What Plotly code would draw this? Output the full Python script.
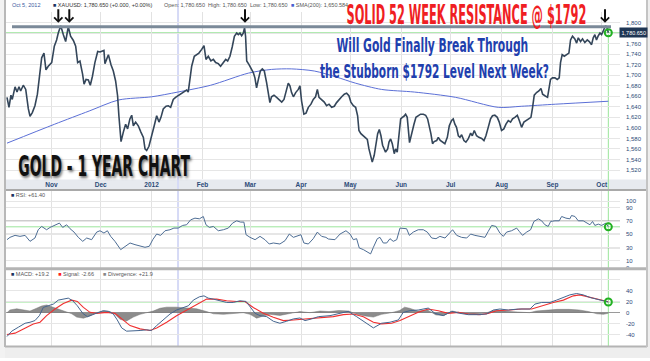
import json
import pandas as pd
import plotly.graph_objects as go

# ---------------- data ----------------
start_date = "2011-10-05"

price_days = [
    0, 1.2, 2.4, 3.2, 4.9, 6.1, 7.3, 8.3, 9.9, 11.4,
    13, 14, 15.4, 17, 18.5, 19.7, 21.1, 22.5, 23.7, 25.1,
    27.2, 28.8, 30.2, 31.2, 32.7, 34.3, 35.7, 37.3, 38.7, 40.4,
    41.8, 43, 44.4, 46, 46.9, 48.1, 49.5, 50.7, 52, 53.5,
    55.2, 56.6, 58, 59, 59.6, 60.6, 61.7, 63.3, 64.7, 66.1,
    67.3, 68.1, 69.4, 70.8, 72.2, 73.4, 74.8, 75.9, 76.9, 78.3,
    79.9, 81.5, 83, 84, 85, 86.4, 87.4, 88.4, 89.6, 91.1,
    92.5, 93.7, 95.1, 96.8, 98.2, 99.6, 101.2, 102.6, 103.9, 105.3,
    106.7, 107.9, 109.3, 110.3, 111.4, 112.4, 114, 115.4, 116.8, 118.5,
    119.9, 121.1, 122.5, 124.1,
    125.6, 127, 128.6, 130, 131.7, 133.1, 134.3, 135.7, 137.1, 138.4,
    139.8, 140.8, 141.8, 142.8, 143.8, 144.6, 145.2, 145.9, 147.3, 148.5,
    149.9, 150.9, 151.9, 153, 154.2, 155.4, 156.6, 158, 159, 160,
    161, 162.5, 164.1, 165.5, 167.2, 168.6, 169.8, 171.2, 172.2, 173.2,
    174.3, 175.7, 177.3, 178.3, 179.3, 180.7, 182, 183.4, 185, 186.4,
    187.8, 188.9, 189.9, 191.5, 193.1, 194.5, 196, 197.6, 199.2, 200.6,
    202, 203.7, 205.3, 206.7, 208.1, 209.3, 210.8, 212.2, 213.4, 214.2,
    215.4, 216.9, 217.9, 219.3, 220.3, 221.5, 222.3, 223.5, 224.6, 225.6,
    226.6, 227.6, 228.6, 229.6, 230.4, 231.7, 232.5, 233.5, 234.5, 235.7,
    236.5, 237.5, 238.6, 239.6, 240.6, 241.6, 242.6, 243.6,
    245, 246.3, 247.7, 248.9, 250.3, 251.7, 253.4, 254.8, 256, 256.8,
    258, 259, 260, 261.5, 262.5, 263.7, 265.1, 266.5, 268, 269.2,
    270.6, 271.6, 272.6, 273.6, 274.7, 275.7, 276.7, 278.1, 279.3, 280.7,
    282.2, 283.2, 284.4, 285.8, 287.2, 288.9, 290.3, 291.5, 292.9, 294.3,
    295.5, 296.9, 298.4, 299.6, 301, 302.4, 303.7, 305.1, 306.5, 307.7,
    309.1, 310.6, 311.8, 313.2, 314.6, 315.8, 317.3, 318.9, 319.9, 320.9,
    322.3, 323.7, 325, 326, 327.4, 329, 329.8, 330.8, 332, 333.5,
    334.9, 336.1, 336.9, 337.9, 339.2, 340.6, 342, 343, 344.2, 345.6,
    346.7, 347.7, 349.1, 350.3, 351.7, 353.2, 354.4, 355.8, 356.8, 357.8,
    358.8, 359.9, 360.9, 361.9, 363.1, 364.3, 365.3, 366,
]
price_values = [
    1658, 1639, 1662, 1654, 1678, 1668, 1678, 1670, 1681, 1673,
    1636, 1622, 1629, 1642, 1664, 1698, 1733, 1742, 1710, 1717,
    1724, 1755, 1767, 1780, 1794, 1777, 1764, 1792, 1774, 1766,
    1755, 1724, 1727, 1702, 1683, 1692, 1691, 1681, 1698, 1724,
    1745, 1744, 1745, 1747, 1722, 1730, 1739, 1720, 1708, 1689,
    1661, 1623, 1574, 1592, 1607, 1598, 1617, 1624, 1604, 1611,
    1604, 1592, 1582, 1560, 1557, 1565, 1579, 1592, 1604, 1623,
    1611, 1620, 1636, 1641, 1642, 1639, 1654, 1658, 1661, 1664,
    1667, 1670, 1672, 1668, 1698, 1717, 1736, 1739, 1742, 1749,
    1756, 1730, 1736, 1727,
    1730, 1724, 1722, 1717, 1725, 1730, 1727, 1736, 1754, 1774,
    1780, 1777, 1780, 1775, 1780, 1790, 1774, 1727, 1720, 1714,
    1705, 1695, 1676, 1692, 1708, 1712, 1708, 1686, 1664, 1648,
    1659, 1662, 1658, 1653, 1649, 1654, 1667, 1685, 1680, 1667,
    1659, 1667, 1673, 1680, 1651, 1626, 1628, 1639, 1645, 1654,
    1659, 1673, 1658, 1654, 1649, 1642, 1645, 1639, 1641, 1648,
    1654, 1659, 1664, 1666, 1661, 1649, 1642, 1639, 1623, 1595,
    1589, 1585, 1582, 1578, 1560, 1541, 1535, 1548, 1570, 1589,
    1597, 1585, 1567, 1560, 1554, 1560, 1573, 1579, 1570, 1551,
    1560, 1554, 1585, 1617, 1620, 1622, 1626, 1620,
    1572, 1592, 1607, 1620, 1623, 1626, 1626, 1624, 1617, 1607,
    1589, 1570, 1574, 1576, 1582, 1576, 1573, 1570, 1582, 1604,
    1614, 1617, 1607, 1601, 1585, 1582, 1587, 1576, 1573, 1579,
    1590, 1585, 1595, 1585, 1582, 1580, 1576, 1585, 1601, 1617,
    1623, 1624, 1620, 1611, 1595, 1598, 1607, 1614, 1611, 1617,
    1620, 1624, 1614, 1601, 1611, 1614, 1617, 1620, 1639, 1662,
    1667, 1670, 1675, 1664, 1661, 1658, 1673, 1692, 1695, 1695,
    1692, 1695, 1724, 1739, 1736, 1739, 1742, 1767, 1774, 1769,
    1761, 1771, 1764, 1769, 1762, 1767, 1764, 1758, 1771, 1777,
    1767, 1775, 1780, 1777, 1785, 1794, 1789, 1780.65,
]

sma_days = [0, 29, 50, 68, 88, 104, 124, 147, 161, 173, 187, 200, 212, 228, 248, 273, 299, 313, 334, 366]
sma_values = [1571, 1607, 1632, 1653, 1659, 1668, 1681, 1704, 1711, 1712, 1708, 1697, 1685, 1673, 1668, 1658, 1639, 1641, 1645, 1650.584]

rsi_days = [
    0, 1.8, 4.9, 7.9, 11, 14, 17, 19, 21.1, 24.1,
    26.2, 29.2, 31.9, 33.9, 36.3, 38.4, 40.8, 43.4, 46.1, 48.5,
    51.5, 54.6, 56.6, 59, 61.1, 63.1, 65.7, 69.2, 71.8, 74.9,
    77.9, 81, 84, 86.6, 88.7, 91.1, 93.5, 96.2, 99.2, 101.6,
    104.2, 106.9, 109.3, 111.8, 114.4, 117.1, 119.5, 121.1, 123.2, 125.6,
    128.6, 131.7, 134.7, 137.3, 139.8, 142.2, 144.2, 145.5, 147.9, 151,
    154, 157, 159.6, 162.1, 166.1, 169.2, 171.8, 174.3, 177.3, 178.9,
    180.7, 183.4, 186.4, 188.9, 191.5, 194.1, 195.6, 199.6, 202.7, 206.3,
    208.8, 210.8, 212.8, 214.4, 216.9, 219.3, 221.3, 223, 225.4, 227,
    229, 231.1, 233.1, 235.1, 237.2, 239.2, 241.2, 243.2, 244.9, 247.3,
    250.3, 253.4, 255.8, 258.5, 261.1, 263.5, 266.6, 269.2, 271.2, 273.7,
    276.7, 279.8, 282.2, 284.8, 287.9, 290.9, 292.9, 295, 297.6, 300,
    302.1, 304.1, 307.1, 310.2, 311.8, 313.8, 316.3, 318.7, 320.7, 323.4,
    325.4, 327.4, 329.4, 330.9, 333.5, 336.1, 337.6, 340.2, 342.6, 343.6,
    345.7, 347.7, 350.7, 352.8, 354.8, 356.4, 357.8, 359.9, 361.9, 364.5,
    366,
]
rsi_values = [
    42, 45.5, 48.5, 47, 48.5, 39.5, 44.5, 57, 62, 57,
    60.5, 63.5, 67, 60.5, 64.5, 58.5, 53.5, 45.5, 39.5, 44.5,
    42, 53.5, 55.5, 52, 55.5, 47, 39.5, 27, 32, 37,
    34.5, 32, 30.5, 32, 42, 50.5, 48.5, 55.5, 57, 59.5,
    59.5, 63.5, 64.5, 72, 74.5, 73.5, 77, 64.5, 60.5, 62,
    55.5, 57, 59.5, 67, 70.5, 68.5, 68.5, 49.5, 45.5, 42,
    47, 42, 35.5, 37, 35.5, 40.5, 50.5, 45.5, 48.5, 49.5,
    37, 35.5, 43.5, 53.5, 47, 45.5, 43, 42, 50.5, 55.5,
    50.5, 42, 43.5, 29.5, 27, 23.5, 20.5, 30.5, 43.5, 45.5,
    37, 37, 43.5, 39.5, 42, 59.5, 59.5, 58.5, 48.5, 53.5,
    57, 57, 53.5, 44.5, 43.5, 47, 44.5, 52, 57, 48.5,
    45.5, 44.5, 50.5, 48.5, 47, 45.5, 54.5, 63.5, 62, 52,
    47, 53.5, 55.5, 59.5, 54.5, 48.5, 53.5, 57, 69.5, 73.5,
    70.5, 64.5, 62, 69.5, 70.5, 70.5, 77, 74.5, 73.5, 78.5,
    77, 70.5, 70.5, 67, 64.5, 69.5, 63.5, 65.5, 63.5, 67,
    61.4,
]

macd_days = [
    0, 2.9, 6.9, 11, 14, 17, 19.7, 22.1, 25.1, 28.2,
    31.2, 34.3, 37.3, 40, 42.8, 46.1, 48.9, 52.1, 55.6, 58.6,
    61.7, 64.7, 67.1, 69.8, 72.8, 76.9, 81, 85, 88, 91.1,
    95.1, 99.2, 103.2, 107.3, 110.4, 113.4, 117.1, 119.9, 122.5, 125.6,
    129.6, 133.7, 137.7, 141.8, 145.5, 147.9, 151, 154, 158.1, 162.1,
    166.1, 170.2, 174.3, 178.3, 181.4, 185.4, 189.5, 196.6, 202.7, 207.7,
    212.8, 217.9, 223, 228, 233.1, 238.2, 241.2, 245.3, 250.3, 256.4,
    260.5, 265.5, 270.6, 275.7, 280.8, 286.8, 291.9, 296, 300, 305.1,
    311.2, 318.3, 321.3, 325.4, 330.5, 334.5, 338.6, 342.6, 346.7, 350.7,
    354.8, 358.9, 362.9, 366,
]
macd_values = [
    -43, -33.4, -26.3, -19.1, -17.3, -14.3, -5.4, 9.5, 12.5, 15.5,
    22.7, 24.5, 26.3, 21.5, 12.5, -1.2, -7.2, -3.6, 0.6, 3.6,
    2.4, -2.4, -13.1, -27.5, -33.4, -33.4, -32.2, -31, -32.2, -23.3,
    -13.1, -2.4, 4.8, 9.5, 12.5, 22.7, 28.7, 30.4, 26.3, 24.5,
    21.5, 18.5, 18.5, 21.5, 20.3, 10.7, -1.2, -5.4, -7.2, -15.5,
    -19.1, -15.5, -11.3, -9.6, -14.3, -11.3, -7.2, -5.4, -1.2, 2.4,
    -7.2, -17.3, -27.5, -19.1, -17.3, -13.1, 0.6, 3.6, 4.8, 8.3,
    -1.2, -5.4, 2.4, -1.2, -3.6, -3.6, -2.4, 4.8, 6.6, 4.8,
    6.6, 6.6, 15.5, 18.5, 18.5, 22.7, 27.5, 32.2, 34.6, 32.2,
    27.5, 24.5, 21.5, 19.2,
]

signal_days = [
    0, 4.9, 10, 16, 20.1, 24.1, 29.2, 34.3, 39.4, 42.8,
    46.5, 50.5, 54.6, 60.7, 65.7, 69.8, 74.9, 81, 87, 91.1,
    97.2, 103.2, 109.3, 115.4, 121.5, 127.6, 133.7, 139.8, 144.8, 149.9,
    156, 162.1, 168.2, 174.3, 182.4, 190.5, 198.6, 204.7, 210.8, 216.9,
    223, 228, 234.1, 239.2, 244.3, 250.3, 256.4, 262.5, 268.6, 274.7,
    280.8, 287.9, 292.9, 298, 306.1, 313.2, 319.3, 325.4, 332.5, 338.6,
    344.7, 348.7, 353.8, 359.9, 366,
]
signal_values = [
    -39.4, -37, -29.3, -20.3, -17.3, -5.4, 6.6, 16.7, 22.7, 20.3,
    9.5, 0.6, -1.2, 0.6, -1.2, -11.3, -23.3, -29.3, -32.2, -27.5,
    -17.3, -5.4, 4.8, 15.5, 24.5, 24.5, 21.5, 20.3, 20.3, 9.5,
    -1.2, -8.4, -14.3, -13.1, -11.3, -8.4, -7.2, -3.6, -2.4, -7.2,
    -17.3, -20.3, -19.1, -14.3, -7.2, 0.6, 6.6, 3.6, -1.2, 0.6,
    -2.4, -3.6, -1.2, 3.6, 4.8, 6.6, 6.6, 12.5, 18.5, 22.7,
    30.4, 32.2, 28.7, 24.5, 19.7,
]

div_days = [
    0, 1.8, 5.9, 10, 14, 18, 21, 24.1, 28.2, 32.3,
    36.3, 39.4, 42.4, 46.5, 50.5, 54.6, 58.6, 62.7, 65.7, 68.8,
    72.8, 76.9, 81, 85, 89, 93.1, 97.2, 103.2, 109.3, 115.4,
    121.5, 125.6, 131.7, 137.7, 143.8, 147.9, 152, 156, 160.1, 166.1,
    172.2, 178.3, 184.4, 190.5, 196, 202, 208, 213, 218, 223,
    228, 234, 239, 242, 245, 250, 256, 261, 266, 271,
    276, 281, 287, 292, 296, 300, 306, 312, 318, 322,
    328, 335, 342, 348, 354, 359, 363, 366,
]
div_values = [
    0, 5, 7, 5, 3, 8, 12, 14, 10, 6,
    2, -2, -8, -10, -6, 0, 3, 2, -3, -12,
    -15, -8, -3, 0, 3, 8, 10, 10, 8, 7,
    2, -2, -3, -2, 0, -3, -10, -6, -3, -5,
    -2, 2, 0, 3, 2, 4, 3, -3, -6, -8,
    -3, 0, 4, 10, 8, 3, 5, -4, -5, 3,
    0, -3, -2, 0, 4, 4, 2, 1, 0, 3,
    5, 6, 6, 5, 2, -2, -3, -1,
]

month_ticks = ["2011-11-01", "2011-12-01", "2012-01-01", "2012-02-01", "2012-03-01", "2012-04-01",
               "2012-05-01", "2012-06-01", "2012-07-01", "2012-08-01", "2012-09-01", "2012-10-01"]
month_labels = ["Nov", "Dec", "2012", "Feb", "Mar", "Apr", "May", "Jun", "Jul", "Aug", "Sep", "Oct"]
price_ticks = [1520, 1540, 1560, 1580, 1600, 1620, 1640, 1660, 1680, 1700, 1720, 1740, 1760, 1780, 1800]
price_tick_labels = ["1,520", "1,540", "1,560", "1,580", "1,600", "1,620", "1,640", "1,660", "1,680",
                     "1,700", "1,720", "1,740", "1,760", "", "1,800"]
rsi_ticks = [0, 10, 30, 50, 70, 90, 100]
rsi_bands = [30, 50, 70]
macd_ticks = [-40, -20, 0, 20, 40, 60]
macd_labels = ["-40", "-20", "0", "20", "40", ""]

resistance_level = 1792
last_price = 1780.65
last_rsi = 61.40
last_macd = 19.2
last_signal = -2.66
last_divergence = 21.9
last_sma = 1650.584
crosshair_day = 104.1

# ---------------- helpers ----------------
W, H = 650, 361
def px(x):
    return x / W
def py(y):
    return 1 - y / H

start = pd.Timestamp(start_date)
def to_dates(days):
    return [start + pd.Timedelta(days=d) for d in days]

last_date = to_dates([price_days[-1]])[0]
x_range = [start - pd.Timedelta(days=1.22), start + pd.Timedelta(days=373.1)]

LBL = "#2c4a78"
BASE = "Liberation Sans, Arial, sans-serif"
COND = "Liberation Sans Narrow, DejaVu Sans Condensed, DejaVu Sans, sans-serif"
GREEN = "#9be59b"

fig = go.Figure()

# price panel
fig.add_trace(go.Scatter(x=to_dates(sma_days), y=sma_values, mode="lines",
                         line=dict(color="#5b6fd6", width=1, shape="spline", smoothing=0.8),
                         xaxis="x", yaxis="y", hoverinfo="skip"))
fig.add_trace(go.Scatter(x=to_dates(price_days), y=price_values, mode="lines",
                         line=dict(color="#34465a", width=1.6), xaxis="x", yaxis="y"))
fig.add_trace(go.Scatter(x=[last_date], y=[last_price], mode="markers",
                         marker=dict(symbol="circle-open", size=7, color="#22b022", line=dict(width=2)),
                         xaxis="x", yaxis="y"))

# RSI panel
fig.add_trace(go.Scatter(x=to_dates(rsi_days), y=rsi_values, mode="lines",
                         line=dict(color="#4d6d94", width=1), xaxis="x2", yaxis="y2"))
fig.add_trace(go.Scatter(x=[last_date], y=[last_rsi], mode="markers",
                         marker=dict(symbol="circle-open", size=7, color="#22b022", line=dict(width=2)),
                         xaxis="x2", yaxis="y2"))

# MACD panel
fig.add_trace(go.Scatter(x=to_dates(div_days), y=div_values, mode="lines", fill="tozeroy",
                         fillcolor="rgba(120,120,120,0.85)", line=dict(color="rgba(110,110,110,0.9)", width=0.5),
                         xaxis="x3", yaxis="y3"))
fig.add_trace(go.Scatter(x=to_dates(signal_days), y=signal_values, mode="lines",
                         line=dict(color="#f03030", width=1.1), xaxis="x3", yaxis="y3"))
fig.add_trace(go.Scatter(x=to_dates(macd_days), y=macd_values, mode="lines",
                         line=dict(color="#44658f", width=1), xaxis="x3", yaxis="y3"))
fig.add_trace(go.Scatter(x=[last_date], y=[last_macd], mode="markers",
                         marker=dict(symbol="circle-open", size=7, color="#22b022", line=dict(width=2)),
                         xaxis="x3", yaxis="y3"))

xcommon = dict(range=x_range, type="date", tickvals=month_ticks, ticktext=month_labels,
               showgrid=True, gridcolor="#e2e2e2", gridwidth=1, zeroline=False, showline=False, ticks="")
ycommon = dict(side="right", showgrid=True, gridcolor="#e6e6e6", zeroline=False, showline=False,
               ticks="", tickfont=dict(family=BASE, size=6, color=LBL), ticklabelstandoff=5)

fig.update_layout(
    width=W, height=H, margin=dict(l=0, r=0, t=0, b=0),
    paper_bgcolor="#ffffff", plot_bgcolor="rgba(0,0,0,0)", showlegend=False,
    xaxis=dict(xcommon, domain=[px(5), px(620)], anchor="y",
               tickfont=dict(family=BASE, size=6.5, color=LBL, weight="bold")),
    xaxis2=dict(xcommon, domain=[px(5), px(620)], anchor="y2", matches="x", showticklabels=False),
    xaxis3=dict(xcommon, domain=[px(5), px(620)], anchor="y3", matches="x", showticklabels=False),
    yaxis=dict(ycommon, domain=[py(181), py(12)], range=[1502, 1820.2], tickvals=price_ticks,
               ticktext=price_tick_labels),
    yaxis2=dict(ycommon, domain=[py(270), py(192)], range=[-0.4, 116.4], tickvals=rsi_ticks),
    yaxis3=dict(ycommon, domain=[py(349), py(272)], range=[-60.4, 77.6], tickvals=macd_ticks,
                ticktext=macd_labels, zeroline=True, zerolinecolor="#9a9a9a", zerolinewidth=1),
)

shapes = []
# frame / strips
shapes.append(dict(type="rect", xref="paper", yref="paper", x0=px(5), x1=px(647), y0=py(191), y1=py(181),
                   fillcolor="#e7eaef", line=dict(width=0), layer="below"))
shapes.append(dict(type="rect", xref="paper", yref="paper", x0=0, x1=1, y0=0, y1=py(350),
                   fillcolor="#eeeeee", line=dict(width=0), layer="below"))
shapes.append(dict(type="rect", xref="paper", yref="paper", x0=px(647), x1=1, y0=0, y1=1,
                   fillcolor="#eeeeee", line=dict(width=0), layer="below"))
shapes.append(dict(type="rect", xref="paper", yref="paper", x0=0, x1=px(5), y0=0, y1=1,
                   fillcolor="#f2f2f2", line=dict(width=0), layer="below"))
for yy, w, c in [(191.5, 2, "#a9a9a9"), (271, 3, "#b4b4b4"), (349.5, 2, "#b4b4b4")]:
    shapes.append(dict(type="line", xref="paper", yref="paper", x0=px(5), x1=px(647), y0=py(yy), y1=py(yy),
                       line=dict(color=c, width=w)))
shapes.append(dict(type="line", xref="paper", yref="paper", x0=px(5), x1=px(5), y0=py(350), y1=1,
                   line=dict(color="#b8b8b8", width=2)))
shapes.append(dict(type="line", xref="paper", yref="paper", x0=px(647), x1=px(647), y0=py(350), y1=1,
                   line=dict(color="#c4c4c4", width=2)))
# crosshair
shapes.append(dict(type="line", xref="x", yref="paper", x0=to_dates([crosshair_day])[0], x1=to_dates([crosshair_day])[0],
                   y0=py(349), y1=1, line=dict(color="#d6daf6", width=2), layer="below"))
# green current-value guides
shapes.append(dict(type="line", xref="x", yref="paper", x0=last_date, x1=last_date, y0=py(349), y1=py(30),
                   line=dict(color=GREEN, width=1), layer="below"))
shapes.append(dict(type="line", xref="x domain", yref="y", x0=0, x1=1, y0=last_price, y1=last_price,
                   line=dict(color=GREEN, width=1), layer="below"))
shapes.append(dict(type="line", xref="x2 domain", yref="y2", x0=0, x1=1, y0=last_rsi, y1=last_rsi,
                   line=dict(color=GREEN, width=1), layer="below"))
shapes.append(dict(type="line", xref="x3 domain", yref="y3", x0=0, x1=1, y0=last_macd, y1=last_macd,
                   line=dict(color=GREEN, width=1), layer="below"))
# RSI bands
for b in rsi_bands:
    shapes.append(dict(type="line", xref="x2 domain", yref="y2", x0=0, x1=1, y0=b, y1=b,
                       line=dict(color="#9c9c9c", width=1.3), layer="below"))
# resistance line
shapes.append(dict(type="line", xref="paper", yref="y", x0=px(12), x1=px(611), y0=resistance_level, y1=resistance_level,
                   line=dict(color="#7b8a99", width=3)))
fig.update_layout(shapes=shapes)

ann = []
# header
hdr = dict(xref="paper", yref="paper", showarrow=False, xanchor="left", yanchor="middle",
           font=dict(family=BASE, size=5.5, color="#555555"))
ann.append(dict(hdr, x=px(10), y=py(5.5), text="Oct 5, 2012", font=dict(family=BASE, size=5.5, color="#3b5ba0")))
ann.append(dict(hdr, x=px(51), y=py(5.5),
                text="<span style='color:#1d3461'>■</span> XAUUSD: 1,780.650 (+0.000, +0.00%)",
                font=dict(family=BASE, size=5.5, color="#333333")))
ann.append(dict(hdr, x=px(162), y=py(5.5),
                text="Open: 1,780.650  High: 1,780.650  Low: 1,780.650"))
ann.append(dict(hdr, x=px(289), y=py(5.5),
                text="<span style='color:#4a5fd0'>■</span> SMA(200): 1,650.584"))
# panel legends
ann.append(dict(hdr, x=px(9), y=py(197), text="<span style='color:#1d3461'>■</span> RSI: +61.40"))
ann.append(dict(hdr, x=px(9), y=py(276.5),
                text="<span style='color:#1d3461'>■</span> MACD: +19.2      "
                     "<span style='color:#ff2020'>■</span> Signal: -2.66      "
                     "<span style='color:#888888'>■</span> Divergence: +21.9"))
# last price tag
ann.append(dict(xref="paper", yref="y", x=px(619), y=last_price, xanchor="left", yanchor="middle",
                showarrow=False, text="1,780.650", bgcolor="#1f3654", borderpad=1.5,
                font=dict(family=BASE, size=5.5, color="#ffffff")))
# big captions
ann.append(dict(xref="paper", yref="paper", x=px(466), y=py(15), showarrow=False,
                xanchor="center", yanchor="middle", text="SOLID 52 WEEK RESISTANCE @ $1792",
                font=dict(family=COND, size=26, color="#f01e23", weight="bold")))
ann.append(dict(xref="paper", yref="paper", x=px(432.5), y=py(45.5), showarrow=False,
                xanchor="center", yanchor="middle", text="Will Gold Finally Break Through",
                font=dict(family=COND, size=20, color="#1f3fae", weight="bold")))
ann.append(dict(xref="paper", yref="paper", x=px(434), y=py(71.5), showarrow=False,
                xanchor="center", yanchor="middle", text="the Stubborn $1792 Level Next Week?",
                font=dict(family=COND, size=20, color="#1f3fae", weight="bold")))
ann.append(dict(xref="paper", yref="paper", x=px(104), y=py(167.5), showarrow=False,
                xanchor="center", yanchor="middle", text="GOLD - 1 YEAR CHART",
                font=dict(family=COND, size=29, color="#111111", weight="bold",
                          shadow="2px 2px 3px rgba(0,0,0,0.55)")))
# arrows
for ax_x in [58.3, 69.3, 245, 605]:
    ann.append(dict(xref="paper", yref="paper", x=px(ax_x), y=py(23), ax=0, ay=-15, text="",
                    showarrow=True, arrowhead=4, arrowsize=0.8, arrowwidth=2, arrowcolor="#111111"))
fig.update_layout(annotations=ann)

targets = {
    "SOLID 52 WEEK": 240,
    "Will Gold Finally": 192,
    "the Stubborn": 229,
    "GOLD - 1 YEAR": 172,
}
post = """
document.documentElement.style.margin = '0';
document.documentElement.style.padding = '0';
document.body.style.margin = '0';
document.body.style.padding = '0';
document.body.style.overflow = 'hidden';
var gd = document.getElementById('{plot_id}');
var targets = TARGETS;
gd.querySelectorAll('text.annotation-text').forEach(function(t){
  var s = t.textContent;
  for (var k in targets){
    if (s.indexOf(k) === 0){
      var w = t.getBBox().width;
      if (w > 0){
        t.style.transformBox = 'fill-box';
        t.style.transformOrigin = 'center';
        t.style.transform = 'scaleX(' + (targets[k] / w) + ')';
      }
    }
  }
});
""".replace("TARGETS", json.dumps(targets))

fig.write_html("out.html", post_script=post, config={"displayModeBar": False, "responsive": False})
